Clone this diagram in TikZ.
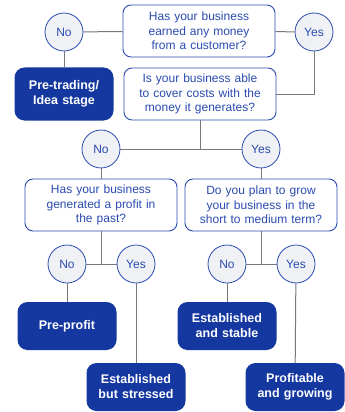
\documentclass[tikz,border=0pt]{standalone}
\usepackage{fontspec}
\setmainfont{Liberation Sans}
\definecolor{navy}{RGB}{20,56,160}
\definecolor{qblue}{RGB}{42,75,176}
\definecolor{ansfill}{RGB}{240,241,245}
\definecolor{wire}{RGB}{120,120,120}
\tikzset{
	qbox/.style={draw=qblue, line width=0.9pt, rounded corners=8pt, fill=white, text=qblue, minimum width=152pt, minimum height=52pt, text width=150pt, align=center, inner sep=0pt, font=\fontsize{12}{14.5}\selectfont},
	stagebox/.style={fill=navy, rounded corners=10pt, text=white, minimum width=99pt, minimum height=48pt, text width=95pt, align=center, inner sep=0pt, font=\fontsize{12.5}{15}\selectfont\bfseries},
	ans/.style={circle, draw=qblue, line width=0.8pt, fill=ansfill, text=qblue, minimum size=38pt, inner sep=0pt, font=\fontsize{12}{14}\selectfont},
	wireline/.style={draw=wire, line width=1pt}
}
\begin{document}
\begin{tikzpicture}[x=1pt, y=-1pt]
		\useasboundingbox (0,0) rectangle (345,412);
		\node[qbox] (q1) at (199,31) {Has your business\\earned any money\\from a customer?};
		\node[ans] (no1) at (64,32) {No};
		\node[ans] (yes1) at (314,32) {Yes};
		\node[stagebox, minimum width=99pt, minimum height=53pt] (pretrade) at (64,94) {Pre-trading/\\Idea stage};
		\node[qbox] (q2) at (200,94) {Is your business able\\to cover costs with the\\money it generates?};
		\node[ans] (no2) at (101,149) {No};
		\node[ans] (yes2) at (261,149) {Yes};
		\node[qbox] (q3) at (101,205) {Has your business\\generated a profit in\\the past?};
		\node[qbox] (q4) at (261,205) {Do you plan to grow\\your business in the\\short to medium term?};
		\node[ans] (no3) at (67,264) {No};
		\node[ans] (yes3) at (136,264) {Yes};
		\node[ans] (no4) at (227,264) {No};
		\node[ans] (yes4) at (296,264) {Yes};
		\node[stagebox] (preprofit) at (67,326) {Pre-profit};
		\node[stagebox] (stable) at (227,326) {Established\\and stable};
		\node[stagebox] (stressed) at (136,387) {Established\\but stressed};
		\node[stagebox] (growing) at (295,387) {Profitable\\and growing};

		\draw[wireline] (no1) -- (q1);
		\draw[wireline] (q1) -- (yes1);
		\draw[wireline] (no1) -- (pretrade);
		\draw[wireline] (yes1) |- (q2.east);
		\draw[wireline] (no2) -- (yes2);
		\draw[wireline] (q2) -- (q2.south |- no2);
		\draw[wireline] (no2) -- (q3);
		\draw[wireline] (yes2) -- (q4);
		\draw[wireline] (no3) -- (yes3);
		\draw[wireline] (q3) -- (q3.south |- no3);
		\draw[wireline] (no4) -- (yes4);
		\draw[wireline] (q4) -- (q4.south |- no4);
		\draw[wireline] (no3) -- (preprofit);
		\draw[wireline] (yes3) -- (stressed);
		\draw[wireline] (no4) -- (stable);
		\draw[wireline] (yes4) -- (growing);
	\end{tikzpicture}
\end{document}
